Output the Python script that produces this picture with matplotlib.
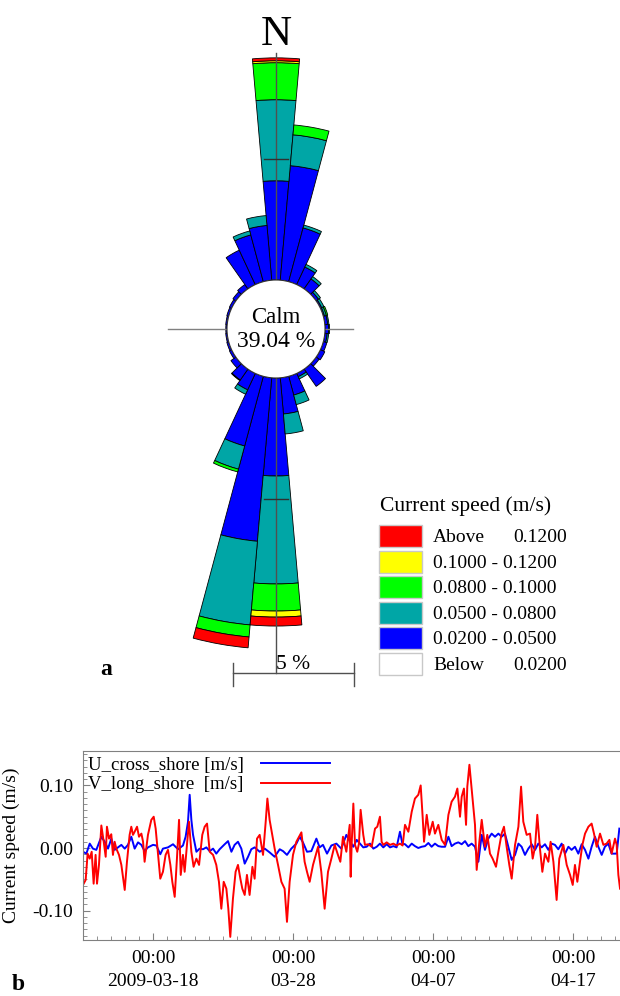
# current rose (a) and current speed time series (b)

import numpy as np
import pandas as pd
import matplotlib
matplotlib.use('Agg')
import matplotlib.pyplot as plt
import matplotlib.dates as mdates
from matplotlib.patches import Circle, Rectangle
from matplotlib.ticker import MultipleLocator

plt.rcParams['font.family'] = 'Liberation Serif'

# ---------------- rose data: percent of time per 10 deg sector ----------------
directions = np.arange(0, 360, 10)
calm_pct = 39.04
pct_020_050 = [4.10, 4.75, 2.30, 0.80, 0.50, 0.12, 0.06, 0.05, 0.12, 0.15, 0.10, 0.15,
               0.20, 0.15, 0.87, 0.15, 0.80, 1.50, 4.05, 6.78, 2.98, 0.75, 0.55, 0.25,
               0.10, 0.08, 0.06, 0.05, 0.06, 0.08, 0.10, 0.15, 0.22, 1.57, 2.00, 2.27]
pct_050_080 = [3.35, 1.28, 0.12, 0.12, 0.12, 0.10, 0.10, 0.08, 0.05, 0.04, 0.06, 0.00,
               0.00, 0.00, 0.00, 0.10, 0.41, 0.83, 4.46, 3.47, 0.99, 0.20, 0.03, 0.00,
               0.00, 0.00, 0.00, 0.00, 0.00, 0.00, 0.00, 0.00, 0.00, 0.00, 0.17, 0.41]
pct_080_100 = [1.53, 0.41, 0.00, 0.00, 0.00, 0.00, 0.00, 0.06, 0.00, 0.00, 0.00, 0.00,
               0.00, 0.00, 0.00, 0.00, 0.00, 0.00, 1.12, 0.50, 0.12, 0.00, 0.00, 0.00,
               0.00, 0.00, 0.00, 0.00, 0.00, 0.00, 0.00, 0.00, 0.00, 0.00, 0.00, 0.00]
pct_100_120 = [0.08, 0.00, 0.00, 0.00, 0.00, 0.00, 0.00, 0.00, 0.00, 0.00, 0.00, 0.00,
               0.00, 0.00, 0.00, 0.00, 0.00, 0.00, 0.25, 0.00, 0.00, 0.00, 0.00, 0.00,
               0.00, 0.00, 0.00, 0.00, 0.00, 0.00, 0.00, 0.00, 0.00, 0.00, 0.00, 0.00]
pct_above_120 = [0.12, 0.00, 0.00, 0.00, 0.00, 0.00, 0.00, 0.00, 0.00, 0.00, 0.00, 0.00,
                 0.00, 0.00, 0.00, 0.00, 0.00, 0.00, 0.37, 0.45, 0.00, 0.00, 0.00, 0.00,
                 0.00, 0.00, 0.00, 0.00, 0.00, 0.00, 0.00, 0.00, 0.00, 0.00, 0.00, 0.00]

legend_labels = [('Above', '0.1200'), ('0.1000 - 0.1200', None), ('0.0800 - 0.1000', None),
                 ('0.0500 - 0.0800', None), ('0.0200 - 0.0500', None), ('Below', '0.0200')]
legend_colors = ['#ff0000', '#ffff00', '#00ff00', '#00a6a6', '#0000ff', '#ffffff']

# ---------------- time series data (days after 2009-03-13 00:00, m/s) ----------------
start = pd.Timestamp('2009-03-13 00:00')

u_days = [0.00, 0.24, 0.48, 0.71, 0.95, 1.31, 1.55, 1.79, 2.02, 2.26, 2.50, 2.74, 2.98, 3.21,
          3.45, 3.69, 3.93, 4.17, 4.40, 4.64, 5.00, 5.24, 5.52, 5.71, 6.07, 6.43, 6.79, 7.14,
          7.33, 7.50, 7.62, 7.74, 7.86, 8.10, 8.33, 8.57, 8.81, 9.05, 9.29, 9.52, 9.76, 10.12,
          10.36, 10.60, 10.83, 11.07, 11.31, 11.55, 11.79, 12.02, 12.26, 12.62, 12.98, 13.33,
          13.69, 14.05, 14.29, 14.57, 14.88, 15.24, 15.48, 15.71, 16.00, 16.31, 16.67, 16.90,
          17.14, 17.43, 17.74, 18.10, 18.45, 18.81, 19.05, 19.31, 19.55, 19.79, 20.02, 20.26,
          20.50, 20.74, 20.98, 21.21, 21.45, 21.69, 21.93, 22.17, 22.40, 22.64, 22.81, 23.00,
          23.24, 23.48, 23.71, 23.95, 24.19, 24.43, 24.67, 24.90, 25.14, 25.38, 25.62, 25.86,
          26.10, 26.33, 26.57, 26.81, 27.05, 27.29, 27.52, 27.76, 28.00, 28.24, 28.48, 28.71,
          28.95, 29.19, 29.43, 29.67, 29.90, 30.14, 30.38, 30.62, 30.86, 31.10, 31.33, 31.57,
          31.81, 32.05, 32.29, 32.52, 32.76, 33.00, 33.24, 33.48, 33.71, 33.95, 34.19, 34.43,
          34.67, 34.90, 35.14, 35.38, 35.62, 35.86, 36.10, 36.33, 36.57, 36.81, 37.05, 37.28,
          37.52, 37.76, 38.12, 38.31]
u_speed = [-0.006, -0.009, 0.007, -0.001, -0.003, 0.018, 0.010, -0.001, 0.015, -0.003, 0.001,
           0.005, -0.001, 0.005, 0.018, -0.001, 0.009, 0.005, -0.005, 0.001, 0.005, 0.004,
           -0.010, -0.001, 0.001, 0.006, -0.002, 0.004, 0.018, 0.042, 0.085, 0.045, 0.021,
           -0.006, -0.001, -0.002, 0.001, -0.005, -0.001, -0.009, -0.002, 0.006, 0.011, -0.006,
           0.005, 0.010, -0.001, -0.025, -0.014, -0.002, 0.001, -0.006, -0.001, -0.007, -0.014,
           -0.002, -0.005, -0.011, -0.001, 0.007, 0.018, 0.009, -0.006, -0.005, 0.015, 0.001,
           0.005, -0.009, 0.004, 0.007, -0.001, 0.021, 0.011, 0.002, 0.013, 0.007, 0.001, 0.002,
           0.007, -0.001, 0.002, 0.007, 0.001, 0.006, 0.001, 0.003, 0.001, 0.026, 0.007, 0.006,
           0.001, 0.007, 0.003, 0.000, 0.002, 0.003, 0.008, 0.002, 0.007, 0.003, 0.002, 0.002,
           0.018, 0.003, 0.007, 0.009, 0.006, 0.011, 0.003, 0.007, 0.002, -0.022, 0.021, -0.003,
           0.015, 0.023, 0.018, 0.023, 0.018, 0.023, 0.002, -0.019, -0.011, 0.007, 0.002, -0.011,
           -0.001, 0.006, -0.003, 0.007, 0.001, 0.006, -0.003, 0.007, 0.005, -0.002, 0.007,
           -0.009, 0.002, -0.003, 0.002, -0.009, 0.006, -0.003, -0.017, 0.002, 0.018, 0.002,
           -0.011, 0.002, 0.007, -0.009, -0.009, 0.031]

v_days = [0.00, 0.19, 0.33, 0.48, 0.62, 0.76, 0.90, 1.00, 1.14, 1.31, 1.48, 1.62, 1.71, 1.86,
          2.02, 2.14, 2.26, 2.38, 2.57, 2.74, 2.98, 3.14, 3.33, 3.45, 3.57, 3.69, 3.86, 4.00,
          4.17, 4.29, 4.40, 4.64, 4.88, 5.05, 5.19, 5.36, 5.52, 5.71, 5.90, 6.07, 6.24, 6.38,
          6.55, 6.71, 6.86, 6.98, 7.14, 7.26, 7.43, 7.57, 7.74, 7.90, 8.10, 8.29, 8.52, 8.69,
          8.86, 9.05, 9.29, 9.52, 9.71, 9.88, 10.05, 10.24, 10.38, 10.52, 10.71, 10.90, 11.07,
          11.24, 11.38, 11.55, 11.71, 11.90, 12.10, 12.26, 12.43, 12.62, 12.86, 13.05, 13.17,
          13.33, 13.52, 13.69, 13.93, 14.17, 14.40, 14.57, 14.76, 15.00, 15.24, 15.60, 15.83,
          16.00, 16.19, 16.43, 16.79, 17.02, 17.26, 17.50, 17.74, 17.98, 18.21, 18.38, 18.57,
          18.81, 19.05, 19.12, 19.19, 19.31, 19.43, 19.59, 19.71, 19.83, 20.02, 20.14, 20.38,
          20.62, 20.86, 21.02, 21.21, 21.33, 21.45, 21.69, 21.93, 22.17, 22.40, 22.64, 22.83,
          23.00, 23.24, 23.48, 23.71, 23.95, 24.12, 24.26, 24.36, 24.55, 24.74, 24.98, 25.14,
          25.38, 25.62, 25.86, 26.10, 26.33, 26.57, 26.74, 26.93, 27.05, 27.21, 27.36, 27.45,
          27.60, 27.76, 28.00, 28.12, 28.31, 28.48, 28.71, 28.88, 29.07, 29.26, 29.50, 29.67,
          29.90, 30.07, 30.26, 30.45, 30.62, 30.86, 31.10, 31.29, 31.45, 31.69, 31.93, 32.12,
          32.29, 32.45, 32.64, 32.81, 33.00, 33.24, 33.40, 33.60, 33.83, 34.02, 34.31, 34.55,
          34.79, 34.98, 35.14, 35.31, 35.50, 35.67, 35.86, 36.10, 36.33, 36.50, 36.69, 36.93,
          37.17, 37.40, 37.60, 37.76, 38.00, 38.12, 38.24, 38.36]
v_speed = [-0.059, -0.051, -0.009, -0.017, -0.006, -0.057, -0.011, -0.057, -0.027, 0.036,
           0.010, -0.014, 0.034, 0.015, 0.022, -0.011, 0.010, -0.001, -0.011, -0.027, -0.067,
           -0.022, 0.021, 0.034, 0.021, 0.026, 0.034, 0.018, 0.023, 0.010, -0.022, 0.021, 0.045,
           0.050, 0.031, -0.011, -0.049, -0.038, -0.011, -0.003, -0.027, -0.054, -0.078, -0.017,
           0.045, -0.043, -0.011, -0.038, 0.005, 0.042, -0.006, -0.030, -0.017, -0.027, 0.021,
           0.034, 0.039, -0.006, -0.011, -0.027, -0.054, -0.097, -0.054, -0.065, -0.097, -0.142,
           -0.081, -0.038, -0.027, -0.049, -0.065, -0.075, -0.043, -0.075, -0.030, -0.049, 0.015,
           0.021, -0.011, 0.042, 0.079, 0.045, 0.021, -0.001, -0.027, -0.054, -0.065, -0.118,
           -0.054, -0.011, 0.010, 0.025, -0.022, -0.038, -0.054, -0.027, 0.002, -0.038, -0.097,
           -0.038, -0.017, 0.005, -0.011, -0.022, 0.018, -0.006, 0.037, -0.046, 0.005, 0.071,
           0.005, -0.006, 0.007, 0.061, 0.021, 0.005, 0.006, 0.002, 0.031, 0.034, 0.050, 0.010,
           0.005, 0.009, 0.005, 0.007, 0.004, 0.007, 0.004, 0.037, 0.026, 0.058, 0.079, 0.085,
           0.100, 0.050, 0.010, 0.053, 0.021, 0.042, 0.023, 0.037, 0.013, 0.005, 0.053, 0.074,
           0.082, 0.095, 0.050, 0.082, 0.095, 0.037, 0.098, 0.133, 0.095, 0.037, -0.035, 0.010,
           0.045, 0.002, 0.021, -0.009, -0.017, -0.030, -0.006, 0.023, 0.034, 0.002, -0.027,
           -0.049, 0.005, 0.034, 0.098, 0.042, 0.021, 0.023, -0.017, 0.002, 0.053, -0.001,
           -0.038, -0.009, -0.022, 0.010, -0.022, -0.083, -0.017, 0.005, -0.027, -0.043, -0.059,
           -0.027, -0.054, -0.022, 0.005, 0.023, 0.034, 0.039, 0.023, 0.002, 0.023, 0.005,
           0.007, 0.013, -0.009, 0.015, 0.005, -0.043, -0.065]

tick_days = [5, 15, 25, 35]
tick_labels = ['00:00\n2009-03-18', '00:00\n03-28', '00:00\n04-07', '00:00\n04-17']

# ---------------- layout (pixels) ----------------
W, H = 620, 996
cx, cy = 276, 329          # rose centre
calm_px = 49               # calm circle radius
px_per_pct = 24.2          # 1 % of time in pixels
R = 350                    # half size of the polar box

fig = plt.figure(figsize=(W / 100, H / 100), dpi=100)
fig.patch.set_facecolor('white')

# ---- rose bars on a polar axes, hole = calm circle ----
r0 = calm_px / px_per_pct
axp = fig.add_axes([(cx - R) / W, 1 - (cy + R) / H, 2 * R / W, 2 * R / H], projection='polar')
axp.set_theta_zero_location('N')
axp.set_theta_direction(-1)
axp.set_rorigin(-r0)
axp.set_ylim(0, R / px_per_pct - r0)
axp.axis('off')

theta = np.deg2rad(directions)
bottom = np.zeros(len(directions))
classes = [pct_020_050, pct_050_080, pct_080_100, pct_100_120, pct_above_120]
class_colors = ['#0000ff', '#00a6a6', '#00ff00', '#ffff00', '#ff0000']
for vals, col in zip(classes, class_colors):
    vals = np.asarray(vals)
    m = vals > 0
    axp.bar(theta[m], vals[m], width=np.deg2rad(10), bottom=bottom[m], color=col,
            edgecolor='black', linewidth=0.6, zorder=2)
    bottom += vals

# ---- overlay in pixel coordinates for the rose decorations ----
ov = fig.add_axes([0, 0, 1, 1])
ov.set_xlim(0, W)
ov.set_ylim(H, 0)
ov.axis('off')

line_col = '#505050'
ov.plot([168, 353], [cy, cy], color='#808080', lw=1.0, zorder=1)
ov.plot([cx, cx], [53, 673], color=line_col, lw=1.0, zorder=2)
r5 = calm_px + 5 * px_per_pct
for yy in (cy - r5, cy + r5):
    ov.plot([cx - 12, cx + 12], [yy, yy], color='#303030', lw=1.0, zorder=2)
# scale bar: 5 %
sb_left = 233
ov.plot([sb_left, sb_left + 5 * px_per_pct], [673, 673], color=line_col, lw=1.0)
for xx in (sb_left, sb_left + 5 * px_per_pct):
    ov.plot([xx, xx], [663, 686], color=line_col, lw=1.0)
ov.text(cx, 669, '5 %', fontsize=15.5, ha='left', va='baseline')

ov.add_patch(Circle((cx, cy), calm_px, facecolor='white', edgecolor='#303030', lw=0.8, zorder=3))
ov.text(cx, 323, 'Calm', fontsize=16.5, ha='center', va='baseline', zorder=4)
ov.text(cx, 347, '%.2f %%' % calm_pct, fontsize=17, ha='center', va='baseline', zorder=4)
ov.text(cx, 45, 'N', fontsize=31, ha='center', va='baseline')
ov.text(100, 675, 'a', fontsize=17, fontweight='bold', ha='left', va='baseline')
ov.text(12, 995, 'b', fontsize=17, fontweight='bold', ha='left', va='bottom')

# legend of the rose
ov.text(380, 511, 'Current speed (m/s)', fontsize=15.5, ha='left', va='baseline')
for i, ((lab, val), col) in enumerate(zip(legend_labels, legend_colors)):
    top = 525 + i * 25.6
    ov.add_patch(Rectangle((379, top), 43, 22, facecolor=col, edgecolor='#c8c8c8', lw=1.0))
    ov.text(433, top + 17, lab, fontsize=14, ha='left', va='baseline')
    if val is not None:
        ov.text(567, top + 17, val, fontsize=14, ha='right', va='baseline')

# ---------------- time series ----------------
ax = fig.add_axes([83 / W, 1 - 940 / H, 539 / W, 189 / H])
t_u = start + pd.to_timedelta(u_days, unit='D')
t_v = start + pd.to_timedelta(v_days, unit='D')
ax.plot(t_u, u_speed, color='#0000ff', lw=1.4, label='U_cross_shore [m/s]')
ax.plot(t_v, v_speed, color='#ff0000', lw=1.4, label='V_long_shore  [m/s]')

ax.set_xlim(start, start + pd.Timedelta(days=38.5))
ax.set_ylim(-0.147, 0.155)
ax.set_yticks([-0.10, 0.00, 0.10])
ax.set_yticklabels(['-0.10', '0.00', '0.10'])
ax.yaxis.set_minor_locator(MultipleLocator(0.01))
ax.set_xticks([start + pd.Timedelta(days=d) for d in tick_days])
ax.set_xticklabels(tick_labels)
for lbl in ax.get_xticklabels():
    lbl.set_linespacing(1.45)
ax.xaxis.set_minor_locator(mdates.DayLocator())
ax.tick_params(which='both', direction='in', colors='#808080', labelcolor='black', labelsize=14)
ax.tick_params(which='major', length=5, pad=7)
ax.tick_params(which='minor', length=3)
for sp in ax.spines.values():
    sp.set_color('#808080')
ax.spines['right'].set_visible(False)
ax.set_ylabel('Current speed (m/s)', fontsize=14)
ax.yaxis.set_label_coords(-0.117, 0.5)

ax.legend(loc='upper left', bbox_to_anchor=(0.009, 0.97), frameon=False, markerfirst=False,
          handlelength=3.7, handletextpad=0.9, borderpad=0, borderaxespad=0,
          labelspacing=0.12, fontsize=13.5)

fig.savefig('out.png', dpi=100, facecolor='white')
